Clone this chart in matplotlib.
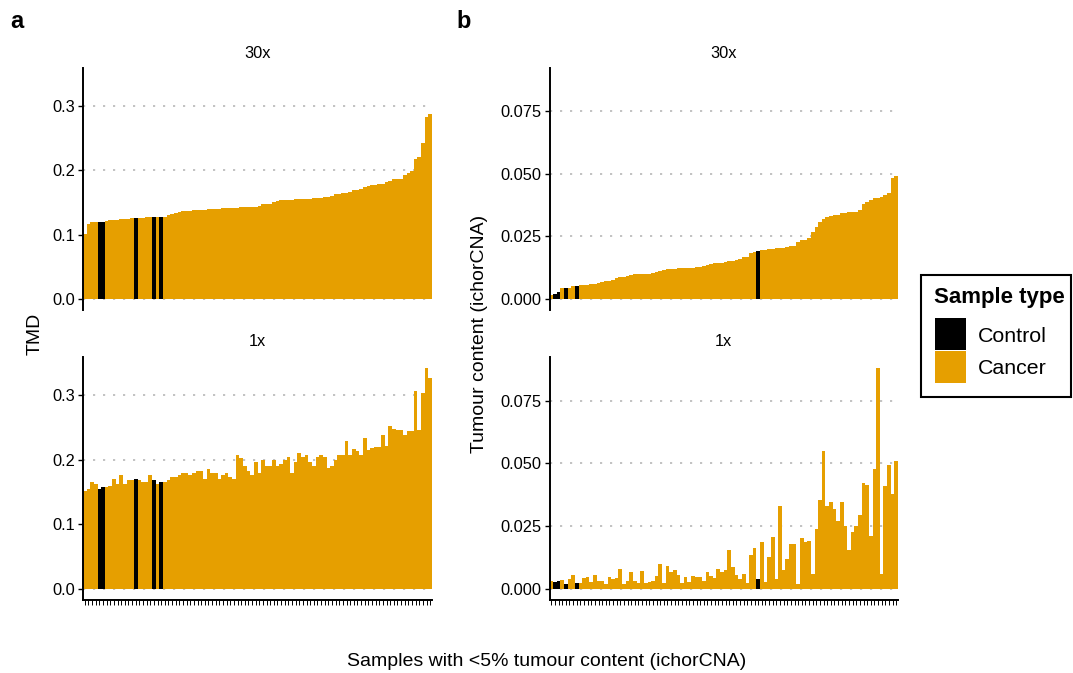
import matplotlib
matplotlib.use("Agg")
import matplotlib.pyplot as plt
from matplotlib.patches import Rectangle
import numpy as np

plt.rcParams['font.family'] = ['Liberation Sans', 'DejaVu Sans']

# ---- data ---------------------------------------------------------------
coverages = ["30x", "1x"]
sample_types = ["Control", "Cancer"]
type_colors = {"Control": "#000000", "Cancer": "#E69F00"}

# TMD per sample, ordered by the 30x value
tmd_30x = [0.101, 0.117, 0.120, 0.120, 0.120, 0.120, 0.121, 0.123, 0.123, 0.123,
           0.124, 0.124, 0.124, 0.126, 0.126, 0.126, 0.126, 0.1275, 0.1275, 0.1275,
           0.1275, 0.1275, 0.1275, 0.131, 0.132, 0.134, 0.135, 0.137, 0.137, 0.137,
           0.138, 0.138, 0.138, 0.138, 0.140, 0.140, 0.140, 0.140, 0.1415, 0.1415,
           0.1415, 0.1415, 0.1415, 0.143, 0.143, 0.143, 0.143, 0.143, 0.1446, 0.148,
           0.148, 0.148, 0.151, 0.152, 0.154, 0.154, 0.154, 0.154, 0.1555, 0.1555,
           0.1555, 0.1555, 0.1555, 0.157, 0.157, 0.157, 0.1586, 0.1586, 0.160, 0.163,
           0.163, 0.165, 0.165, 0.166, 0.1695, 0.1695, 0.171, 0.174, 0.176, 0.177,
           0.177, 0.179, 0.179, 0.182, 0.1835, 0.187, 0.187, 0.187, 0.193, 0.196,
           0.199, 0.218, 0.221, 0.243, 0.283, 0.288]
tmd_1x = [0.152, 0.154, 0.165, 0.162, 0.155, 0.1585, 0.1585, 0.160, 0.171, 0.162,
          0.176, 0.163, 0.168, 0.168, 0.171, 0.169, 0.166, 0.166, 0.176, 0.169,
          0.162, 0.166, 0.166, 0.169, 0.174, 0.174, 0.177, 0.179, 0.179, 0.177,
          0.180, 0.183, 0.182, 0.171, 0.185, 0.179, 0.180, 0.171, 0.177, 0.180,
          0.174, 0.171, 0.207, 0.202, 0.191, 0.182, 0.176, 0.196, 0.180, 0.199,
          0.191, 0.1896, 0.199, 0.1896, 0.193, 0.199, 0.204, 0.179, 0.197, 0.210,
          0.205, 0.208, 0.196, 0.191, 0.205, 0.207, 0.204, 0.188, 0.191, 0.199,
          0.208, 0.208, 0.2285, 0.208, 0.216, 0.213, 0.208, 0.233, 0.2145, 0.218,
          0.219, 0.219, 0.238, 0.222, 0.252, 0.247, 0.2456, 0.2456, 0.239, 0.244,
          0.244, 0.306, 0.2456, 0.303, 0.342, 0.326]
tmd_controls = [4, 5, 14, 19, 21]

# ichorCNA tumour fraction per sample, ordered by the 30x value
ichor_30x = [0.0016, 0.0020, 0.0028, 0.0044, 0.0044, 0.0044, 0.0052, 0.0052, 0.0056, 0.0056,
             0.0056, 0.0060, 0.0060, 0.0064, 0.0068, 0.0072, 0.0072, 0.0076, 0.0084, 0.0088,
             0.0088, 0.0092, 0.0096, 0.0100, 0.0100, 0.0100, 0.0100, 0.0100, 0.0104, 0.0108,
             0.0112, 0.0116, 0.0120, 0.0120, 0.0120, 0.0124, 0.0124, 0.0124, 0.0124, 0.0124,
             0.0128, 0.0128, 0.0132, 0.0136, 0.0140, 0.0144, 0.0144, 0.0144, 0.0148, 0.0152,
             0.0152, 0.0156, 0.0160, 0.0168, 0.0168, 0.0184, 0.0188, 0.0192, 0.0196, 0.0196,
             0.0200, 0.0200, 0.0204, 0.0204, 0.0204, 0.0208, 0.0212, 0.0212, 0.0228, 0.0236,
             0.0236, 0.0244, 0.0268, 0.0288, 0.0308, 0.0320, 0.0328, 0.0332, 0.0336, 0.0336,
             0.0344, 0.0344, 0.0348, 0.0348, 0.0348, 0.0356, 0.0380, 0.0388, 0.0396, 0.0404,
             0.0404, 0.0408, 0.0416, 0.0424, 0.0484, 0.0492]
ichor_1x = [0.0032, 0.0028, 0.0032, 0.0036, 0.0020, 0.0040, 0.0056, 0.0024, 0.0024, 0.0044,
            0.0048, 0.0028, 0.0056, 0.0032, 0.0032, 0.0020, 0.0048, 0.0040, 0.0044, 0.0080,
            0.0020, 0.0032, 0.0068, 0.0032, 0.0024, 0.0072, 0.0024, 0.0028, 0.0032, 0.0052,
            0.0100, 0.0024, 0.0092, 0.0068, 0.0076, 0.0056, 0.0024, 0.0048, 0.0028, 0.0052,
            0.0048, 0.0048, 0.0032, 0.0068, 0.0052, 0.0044, 0.0080, 0.0068, 0.0076, 0.0156,
            0.0088, 0.0056, 0.0040, 0.0060, 0.0024, 0.0136, 0.0164, 0.0040, 0.0188, 0.0028,
            0.0128, 0.0208, 0.0040, 0.0332, 0.0076, 0.0120, 0.0180, 0.0180, 0.0020, 0.0204,
            0.0188, 0.0192, 0.0060, 0.0240, 0.0356, 0.0548, 0.0332, 0.0348, 0.0320, 0.0272,
            0.0348, 0.0252, 0.0156, 0.0228, 0.0252, 0.0296, 0.0424, 0.0416, 0.0212, 0.0476,
            0.0880, 0.0060, 0.0412, 0.0492, 0.0380, 0.0508]
ichor_controls = [1, 2, 4, 7, 57]

tmd_ticks = [0.0, 0.1, 0.2, 0.3]
tmd_ticklabels = ["0.0", "0.1", "0.2", "0.3"]
ichor_ticks = [0.0, 0.025, 0.05, 0.075]
ichor_ticklabels = ["0.000", "0.025", "0.050", "0.075"]

# ---- layout -------------------------------------------------------------
W, H = 1073, 673
fig = plt.figure(figsize=(W / 100, H / 100), dpi=100)
fig.patch.set_facecolor("white")

TICK_FS = 11.8
TITLE_FS = 14
GRID_COLOR = "#b8b8b8"


def fx(px):
    return px / W


def fy(py):
    return 1 - py / H


def px_axes(x0, y0, x1, y1):
    return fig.add_axes([x0 / W, 1 - y1 / H, (x1 - x0) / W, (y1 - y0) / H])


def draw_panel(ax, values, controls, ylim, ticks, ticklabels, bottom_row):
    n = len(values)
    x = np.arange(n)
    colors = [type_colors["Control"] if i in controls else type_colors["Cancer"]
              for i in range(n)]
    for t in ticks:
        ax.axhline(t, color=GRID_COLOR, lw=1.2, ls=(0, (1.3, 4.7)), zorder=0)
    ax.bar(x, values, width=1.0, color=colors, linewidth=0,
           antialiased=False, zorder=2)
    ax.set_xlim(-0.5, n - 0.5)
    ax.set_ylim(*ylim)
    ax.set_yticks(ticks)
    ax.set_yticklabels(ticklabels)
    ax.tick_params(axis="y", length=3.6, width=1.0, pad=2.2,
                   labelsize=TICK_FS, colors="black")
    for side in ("top", "right"):
        ax.spines[side].set_visible(False)
    ax.spines["left"].set_linewidth(1.4)
    ax.spines["left"].set_zorder(5)
    if bottom_row:
        ax.set_xticks(x)
        ax.set_xticklabels([])
        ax.tick_params(axis="x", length=3.6, width=0.7, color="black")
        ax.spines["bottom"].set_linewidth(1.4)
    else:
        ax.spines["bottom"].set_visible(False)
        ax.set_xticks([])
    ax.set_facecolor("none")


columns = [
    (83.0, 432.0, [tmd_30x, tmd_1x], tmd_controls, tmd_ticks, tmd_ticklabels),
    (549.5, 898.0, [ichor_30x, ichor_1x], ichor_controls, ichor_ticks, ichor_ticklabels),
]
rows = [(68.0, 310.0), (357.0, 600.0)]
strip_y = [52, 340]

for (x0, x1, series, controls, ticks, labels) in columns:
    ymax = max(max(s) for s in series)
    ylim = (-0.05 * ymax, 1.05 * ymax)
    for r, (cov, vals) in enumerate(zip(coverages, series)):
        y0, y1 = rows[r]
        ax = px_axes(x0, y0, x1, y1)
        draw_panel(ax, vals, controls, ylim, ticks, labels, bottom_row=(r == 1))
        fig.text(fx((x0 + x1) / 2), fy(strip_y[r] + 1), cov,
                 ha="center", va="center", fontsize=TICK_FS)

# panel tags
fig.text(fx(10), fy(21), "a", fontsize=17, fontweight="bold", ha="left", va="center")
fig.text(fx(456), fy(21), "b", fontsize=17, fontweight="bold", ha="left", va="center")

# axis titles
fig.text(fx(35), fy(334), "TMD", rotation=90, ha="center", va="center",
         fontsize=TITLE_FS)
fig.text(fx(479), fy(334), "Tumour content (ichorCNA)", rotation=90,
         ha="center", va="center", fontsize=TITLE_FS)
fig.text(fx(546.5), fy(661), "Samples with <5% tumour content (ichorCNA)",
         ha="center", va="center", fontsize=TITLE_FS)

# legend box for sample type
leg_x0, leg_y0, leg_x1, leg_y1 = 921, 275, 1071, 397
fig.patches.append(Rectangle((fx(leg_x0), fy(leg_y1)), fx(leg_x1) - fx(leg_x0),
                             fy(leg_y0) - fy(leg_y1), transform=fig.transFigure,
                             facecolor="white", edgecolor="black", linewidth=1.5,
                             zorder=1))
fig.text(fx(934), fy(297.5), "Sample type", fontsize=16, fontweight="bold",
         ha="left", va="center")
key_top = 318
key_h = 32.5
for i, t in enumerate(sample_types):
    top = key_top + i * key_h
    fig.patches.append(Rectangle((fx(935), fy(top + key_h - 0.5)), fx(966) - fx(935),
                                 fy(top) - fy(top + key_h - 0.5),
                                 transform=fig.transFigure, facecolor=type_colors[t],
                                 edgecolor="none", zorder=2))
    fig.text(fx(978), fy(top + key_h / 2 + 1.8), t, fontsize=15.4,
             ha="left", va="center")

fig.savefig("out.png", dpi=100, facecolor="white")
